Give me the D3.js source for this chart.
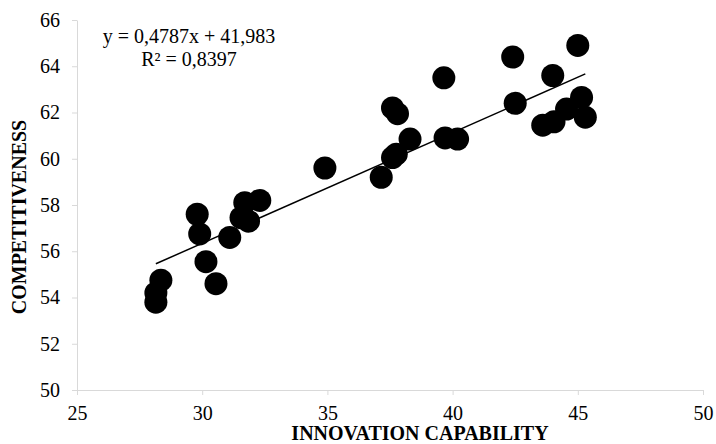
<!DOCTYPE html>
<html>
<head>
<meta charset="utf-8">
<script src="https://cdn.jsdelivr.net/npm/d3@7/dist/d3.min.js"></script>
<style>
  body { margin: 0; background: #fff; }
  svg { display: block; font-family: "Liberation Serif", "Times New Roman", serif; }
</style>
</head>
<body>
<svg id="chart"></svg>
<script>
// innovation capability (x) and competitiveness (y)
var innovation = [28.15, 28.15, 28.35, 29.8, 29.9, 30.15, 30.55, 31.1, 31.55, 31.85,
  31.7, 32.3, 34.9, 37.15, 37.6, 37.75, 37.6, 37.8, 38.3, 39.7,
  40.2, 39.65, 42.4, 42.5, 43.6, 44.05, 44.55, 44.0, 45.0, 45.15, 45.3];
var competitiveness = [53.8, 54.2, 54.75, 57.6, 56.75, 55.55, 54.6, 56.6, 57.45, 57.3,
  58.1, 58.2, 59.6, 59.2, 60.05, 60.2, 62.2, 61.95, 60.85, 60.9,
  60.85, 63.5, 64.4, 62.4, 61.45, 61.6, 62.15, 63.6, 64.9, 62.65, 61.8];
var xTicks = [25, 30, 35, 40, 45, 50];
var yTicks = [50, 52, 54, 56, 58, 60, 62, 64, 66];
var slope = 0.4787;
var intercept = 41.983;
var equationLines = ["y = 0,4787x + 41,983", "R\u00b2 = 0,8397"];

var width = 716, height = 444;
var margin = { top: 20, right: 13, bottom: 54, left: 77 };

var svg = d3.select("#chart").attr("width", width).attr("height", height);

var x = d3.scaleLinear().domain([25, 50]).range([margin.left, width - margin.right]);
var y = d3.scaleLinear().domain([50, 66]).range([height - margin.bottom, margin.top]);

// axes (light grey, excel style)
var xAxis = svg.append("g")
  .attr("transform", "translate(0," + y(50) + ")")
  .call(d3.axisBottom(x).tickValues(xTicks).tickSize(5).tickPadding(11).tickSizeOuter(0));
var yAxis = svg.append("g")
  .attr("transform", "translate(" + x(25) + ",0)")
  .call(d3.axisLeft(y).tickValues(yTicks).tickSize(5).tickPadding(12).tickSizeOuter(0));

[xAxis, yAxis].forEach(function (g) {
  g.attr("font-family", "Liberation Serif").attr("font-size", 20);
  g.select(".domain").attr("stroke", "#d9d9d9");
  g.selectAll(".tick line").attr("stroke", "#d9d9d9");
  g.selectAll(".tick text").attr("fill", "#000");
});

// points
svg.append("g").selectAll("circle")
  .data(innovation)
  .enter()
  .append("circle")
  .attr("cx", function (d) { return x(d); })
  .attr("cy", function (d, i) { return y(competitiveness[i]); })
  .attr("r", 11.5)
  .attr("fill", "#000");

// linear trendline across the data range
var xMin = d3.min(innovation), xMax = d3.max(innovation);
svg.append("line")
  .attr("x1", x(xMin)).attr("y1", y(slope * xMin + intercept))
  .attr("x2", x(xMax)).attr("y2", y(slope * xMax + intercept))
  .attr("stroke", "#000")
  .attr("stroke-width", 1.5);

// equation label
svg.append("g").selectAll("text")
  .data(equationLines)
  .enter()
  .append("text")
  .attr("x", 189)
  .attr("y", function (d, i) { return 43 + i * 23; })
  .attr("text-anchor", "middle")
  .style("font-size", "20px")
  .text(function (d) { return d; });

// axis titles
svg.append("text")
  .attr("x", 420)
  .attr("y", 440)
  .attr("text-anchor", "middle")
  .style("font-size", "20px")
  .style("font-weight", "bold")
  .text("INNOVATION CAPABILITY");

svg.append("text")
  .attr("transform", "translate(26," + 217 + ") rotate(-90)")
  .attr("text-anchor", "middle")
  .style("font-size", "20px")
  .style("font-weight", "bold")
  .text("COMPETITIVENESS");
</script>
</body>
</html>
